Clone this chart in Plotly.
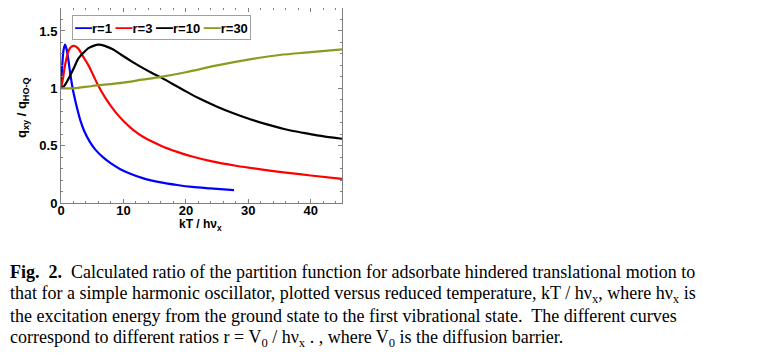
import plotly.graph_objects as go

# reduced temperature kT / h nu_x and ratio q_xy / q_HO-Q
x_r1 = [0, 0.2, 0.4, 0.64, 0.9, 1.2, 1.5, 1.9, 2.3, 2.7, 3.1, 3.7, 4.6, 5.5,
        6.8, 8, 9.5, 11, 13.2, 16, 18.6, 21, 23.9, 27.7]
y_r1 = [1.0, 1.2, 1.33, 1.38, 1.34, 1.24, 1.12, 0.99, 0.89, 0.80, 0.72, 0.63,
        0.535, 0.465, 0.395, 0.345, 0.295, 0.258, 0.215, 0.18, 0.157, 0.14,
        0.127, 0.112]

x_r3 = [0, 0.3, 0.64, 1.17, 1.6, 2.1, 2.7, 3.5, 4.4, 5.2, 6.0, 7.0, 8.0, 9.0,
        10, 11.5, 13.2, 16, 18.6, 21, 24, 28, 32, 36, 40, 45]
y_r3 = [1.0, 1.08, 1.2, 1.32, 1.36, 1.37, 1.35, 1.28, 1.2, 1.11, 1.02, 0.925,
        0.845, 0.775, 0.715, 0.64, 0.575, 0.5, 0.446, 0.405, 0.365, 0.325,
        0.293, 0.265, 0.24, 0.21]

x_r10 = [0, 0.5, 1.17, 2, 2.8, 3.6, 4.4, 5.2, 6.0, 7, 8.3, 9.7, 11.3, 13,
         14.5, 16, 17.8, 19.6, 22, 25, 27.5, 30.3, 33, 35.7, 38.5, 41, 45]
y_r10 = [1.0, 1.02, 1.08, 1.17, 1.26, 1.31, 1.35, 1.37, 1.38, 1.37, 1.34,
         1.29, 1.235, 1.18, 1.135, 1.095, 1.04, 0.985, 0.915, 0.84, 0.785,
         0.73, 0.685, 0.645, 0.615, 0.59, 0.56]

x_r30 = [0, 2, 5, 10, 13, 16, 20, 25, 30, 35, 40, 45]
y_r30 = [1.0, 1.0, 1.02, 1.05, 1.075, 1.10, 1.14, 1.20, 1.25, 1.29, 1.315, 1.34]

names = ['r=1', 'r=3', 'r=10', 'r=30']
colors = ['#0000ff', '#ff0000', '#000000', '#8b9b1e']

caption = [
    '<b>Fig.\u00a0 2.</b>\u00a0 Calculated ratio of the partition function for '
    'adsorbate hindered translational motion to',
    'that for a simple harmonic oscillator, plotted versus reduced temperature, '
    'kT / hν<sub>x</sub>, where hν<sub>x</sub> is',
    'the excitation energy from the ground state to the first vibrational state.'
    '\u00a0 The different curves',
    'correspond to different ratios r = V<sub>0</sub> / hν<sub>x</sub> . , '
    'where V<sub>0</sub> is the diffusion barrier.',
]

# the page body adds an 8px margin, so work in page pixels minus that
OFF = 8
W, H = 780 - OFF, 363 - OFF
L, R, T, B = 61 - OFF, 342 - OFF, 8 - OFF, 203 - OFF  # plot area


def px(xp):
    return (xp - OFF - L) / (R - L)


def py(yp):
    return (B - (yp - OFF)) / (B - T)


fig = go.Figure()
for xs, ys, nm, c in zip([x_r1, x_r3, x_r10, x_r30],
                         [y_r1, y_r3, y_r10, y_r30], names, colors):
    fig.add_trace(go.Scatter(x=xs, y=ys, name=nm, mode='lines',
                             line=dict(color=c, width=2.2, shape='spline',
                                       smoothing=0.9),
                             showlegend=False))

sans = 'Arial, Liberation Sans'
ax_common = dict(showline=True, linecolor='#808080', linewidth=1,
                 mirror='ticks', ticks='inside', ticklen=4,
                 tickcolor='#808080', showgrid=False, zeroline=False,
                 automargin=False,
                 tickfont=dict(family=sans, size=13, color='black',
                               weight='bold'))

fig.update_xaxes(range=[0, 45], dtick=10, ticklabelstandoff=-5, **ax_common,
                 minor=dict(ticks='inside', ticklen=2, dtick=2,
                            tickcolor='#808080'))
fig.update_yaxes(range=[0, 1.7], tickvals=[0, 0.5, 1, 1.5],
                 ticktext=['0', '0.5', '1', '1.5'], **ax_common,
                 minor=dict(ticks='inside', ticklen=2, dtick=0.1,
                            tickcolor='#808080'))

# legend drawn as a boxed line of text
leg = '\u00a0'.join(
    '<span style="color:%s;font-size:17px">—</span>%s' % (c, n)
    for c, n in zip(colors, names))
annotations = [dict(text='<b>' + leg + '</b>', xref='paper', yref='paper',
                    x=px(72), y=py(15), xanchor='left', yanchor='top',
                    showarrow=False, bordercolor='#a0a0a0', borderwidth=1,
                    borderpad=2, bgcolor='white',
                    font=dict(family=sans, size=13, color='black'))]

# axis titles
annotations.append(dict(text='<b>kT / hν<sub>x</sub></b>', xref='paper',
                        yref='paper', x=px(200), y=py(225), xanchor='center',
                        yanchor='middle', showarrow=False,
                        font=dict(family=sans, size=12, color='black')))
annotations.append(dict(text='<b>q<sub>xy</sub> / q<sub>HO-Q</sub></b>',
                        xref='paper', yref='paper', x=px(23), y=py(108),
                        xanchor='center', yanchor='middle', textangle=-90,
                        showarrow=False,
                        font=dict(family=sans, size=13, color='black')))

for i, line in enumerate(caption):
    annotations.append(dict(text=line, xref='paper', yref='paper',
                            x=px(8), y=py(272 + i * 22.1), xanchor='left',
                            yanchor='middle', align='left', showarrow=False,
                            font=dict(family='Liberation Serif, Times New Roman',
                                      size=18, color='black')))

fig.update_layout(width=W, height=H, plot_bgcolor='white',
                  paper_bgcolor='white',
                  margin=dict(l=L, r=W - R, t=T, b=H - B),
                  annotations=annotations)

fig.write_html("out.html")
